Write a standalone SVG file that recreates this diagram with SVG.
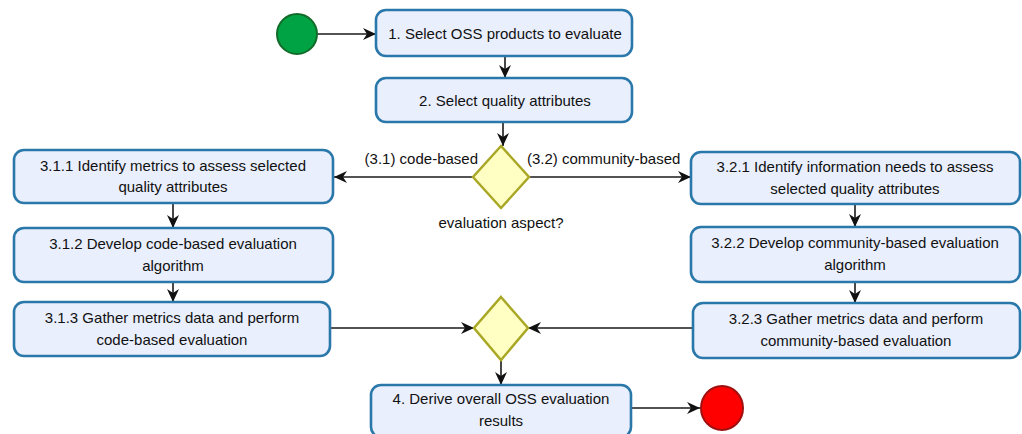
<svg xmlns="http://www.w3.org/2000/svg" width="1022" height="434" viewBox="0 0 1022 434">
<defs>
<style>
.box{fill:#e9effd;stroke:#2a78aa;stroke-width:2.6}
.dia{fill:#ffffc4;stroke:#a9a826;stroke-width:2.5}
.t{font-family:"Liberation Sans",Arial,sans-serif;font-size:15px;fill:#111;text-anchor:middle}
.l{font-family:"Liberation Sans",Arial,sans-serif;font-size:15px;fill:#111}
.c{stroke:#1a1a1a;stroke-width:1.6;fill:none;marker-end:url(#ah)}
</style>
<marker id="ah" markerWidth="14" markerHeight="12" refX="13" refY="6" orient="auto" markerUnits="userSpaceOnUse">
<path d="M0,0 L13,6 L0,12 L4,6 Z" fill="#111"/>
</marker>
</defs>
<rect width="1022" height="434" fill="#ffffff"/>
<g id="connectors">
<path class="c" d="M318,34 H376"/>
<path class="c" d="M505,56 V78"/>
<path class="c" d="M503,122 V146"/>
<path class="c" d="M473,177 H334"/>
<path class="c" d="M529,177 H691"/>
<path class="c" d="M173,203 V228"/>
<path class="c" d="M173,282 V302"/>
<path class="c" d="M855,204 V227"/>
<path class="c" d="M855,282 V303"/>
<path class="c" d="M331,328 H474"/>
<path class="c" d="M693,328 H528"/>
<path class="c" d="M501,360 V385"/>
<path class="c" d="M631,408 H700"/>
</g>
<g id="start"><circle cx="297" cy="34" r="20" fill="#00a344" stroke="#136b2a" stroke-width="2"/></g>
<g id="n1"><rect class="box" x="376" y="10" width="256" height="46" rx="10"/><text class="t" x="505" y="39">1. Select OSS products to evaluate</text></g>
<g id="n2"><rect class="box" x="376" y="78" width="256" height="44" rx="10"/><text class="t" x="505" y="106">2. Select quality attributes</text></g>
<g id="d1"><path class="dia" d="M501,146 L529,177 L501,208 L473,177 Z"/>
<text class="t" x="501" y="228">evaluation aspect?</text></g>
<g id="lbl1"><text class="l" x="478" y="164" text-anchor="end">(3.1) code-based</text></g>
<g id="lbl2"><text class="l" x="527" y="164">(3.2) community-based</text></g>
<g id="n311"><rect class="box" x="14" y="150" width="319" height="53" rx="10"/><text class="t" x="173" y="171">3.1.1 Identify metrics to assess selected</text><text class="t" x="173" y="192">quality attributes</text></g>
<g id="n312"><rect class="box" x="14" y="228" width="319" height="54" rx="10"/><text class="t" x="173" y="249">3.1.2 Develop code-based evaluation</text><text class="t" x="173" y="271">algorithm</text></g>
<g id="n313"><rect class="box" x="14" y="302" width="316" height="54" rx="10"/><text class="t" x="172" y="323">3.1.3 Gather metrics data and perform</text><text class="t" x="172" y="345">code-based evaluation</text></g>
<g id="n321"><rect class="box" x="691" y="152" width="329" height="52" rx="10"/><text class="t" x="855" y="172">3.2.1 Identify information needs to assess</text><text class="t" x="855" y="194">selected quality attributes</text></g>
<g id="n322"><rect class="box" x="691" y="227" width="329" height="55" rx="10"/><text class="t" x="855" y="248">3.2.2 Develop community-based evaluation</text><text class="t" x="855" y="270">algorithm</text></g>
<g id="n323"><rect class="box" x="693" y="303" width="327" height="55" rx="10"/><text class="t" x="856" y="324">3.2.3 Gather metrics data and perform</text><text class="t" x="856" y="346">community-based evaluation</text></g>
<g id="d2"><path class="dia" d="M501,297 L528,328 L501,360 L474,328 Z"/></g>
<g id="n4"><rect class="box" x="371" y="385" width="260" height="52" rx="10"/><text class="t" x="501" y="404">4. Derive overall OSS evaluation</text><text class="t" x="501" y="426">results</text></g>
<g id="end"><ellipse cx="722" cy="408" rx="21" ry="22" fill="#ff0000" stroke="#a01010" stroke-width="2"/></g>
</svg>
